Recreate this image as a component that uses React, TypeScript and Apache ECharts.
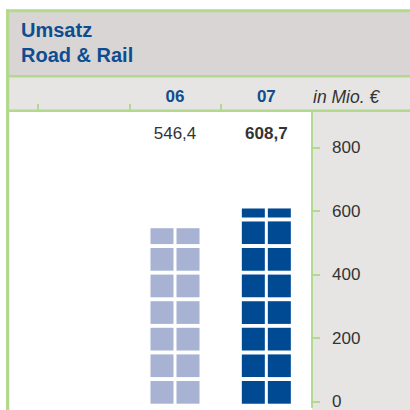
import React, { useEffect, useRef } from "react";
import * as echarts from "echarts";

// ---- data ----
const categories = ["", "06", "07"];
const values: (number | null)[] = [null, 546.4, 608.7];
const valueLabels = ["", "546,4", "608,7"];
const boldLabel = [false, false, true];
const barColors = ["#a8b3d4", "#a8b3d4", "#004a93"];
const titleLines = ["Umsatz", "Road & Rail"];
const unitLabel = "in Mio. €";
const yMin = -17;
const yMax = 916;

// ---- styles ----
const GREEN = "#b3d98e";
const TITLE_BG = "#d9d5d4";
const HEADER_BG = "#e6e5e4";
const BLUE_TEXT = "#0d4d91";
const DARK_TEXT = "#333333";
const FONT = "Liberation Sans";
const CELL_W = 23;
const CELL_H = 22.7;
const GAP_X = 3;
const GAP_Y = 3.9;
const BASE_OFFSET = 2.2;

export default function App() {
  const ref = useRef<HTMLDivElement>(null);
  useEffect(() => {
    if (!ref.current) return;
    const chart = echarts.init(ref.current, null, { renderer: "svg" });
    const data = values
      .map((v, i) => (v == null ? null : [i, v]))
      .filter((d) => d !== null) as number[][];

    const option: any = {
      animation: false,
      backgroundColor: "#ffffff",
      grid: { left: 38, right: 98, top: 111, bottom: 0, containLabel: false },
      xAxis: {
        type: "category",
        position: "top",
        data: categories,
        boundaryGap: true,
        axisLine: { show: false, onZero: false },
        axisTick: { show: true, length: 7, lineStyle: { color: GREEN, width: 2 } },
        axisLabel: {
          margin: 15,
          verticalAlign: "middle",
          color: BLUE_TEXT,
          fontFamily: FONT,
          fontWeight: "bold",
          fontSize: 17,
        },
        splitLine: { show: false },
      },
      yAxis: {
        type: "value",
        position: "right",
        min: yMin,
        max: yMax,
        splitNumber: 5,
        axisLine: { show: true, lineStyle: { color: GREEN, width: 2 } },
        axisTick: { show: true, length: 8, lineStyle: { color: GREEN, width: 2 } },
        axisLabel: {
          margin: 20,
          showMinLabel: false,
          showMaxLabel: false,
          color: DARK_TEXT,
          fontFamily: FONT,
          fontSize: 17,
          padding: [0, 0, 5, 0],
        },
        splitLine: { show: false },
      },
      graphic: [
        // backgrounds
        { type: "rect", z: -10, shape: { x: 9, y: 12, width: 401, height: 63 }, style: { fill: TITLE_BG } },
        { type: "rect", z: -10, shape: { x: 9, y: 77, width: 401, height: 33 }, style: { fill: HEADER_BG } },
        { type: "rect", z: -10, shape: { x: 312, y: 111, width: 98, height: 299 }, style: { fill: HEADER_BG } },
        // hide the header tick at the right end of the category axis
        { type: "rect", z: 10, shape: { x: 309.5, y: 100, width: 5, height: 10 }, style: { fill: HEADER_BG } },
        // frame lines
        { type: "rect", z: 10, shape: { x: 6, y: 9.3, width: 404, height: 3 }, style: { fill: GREEN } },
        { type: "rect", z: 10, shape: { x: 6, y: 9.3, width: 3.3, height: 401 }, style: { fill: GREEN } },
        { type: "rect", z: 10, shape: { x: 9, y: 75, width: 401, height: 2.5 }, style: { fill: GREEN } },
        { type: "rect", z: 10, shape: { x: 9, y: 109.5, width: 401, height: 2.5 }, style: { fill: GREEN } },
        // title
        {
          type: "text", z: 11, x: 21, y: 29.5,
          style: { text: titleLines[0], fill: BLUE_TEXT, font: `bold 20px "${FONT}"`, verticalAlign: "middle" },
        },
        {
          type: "text", z: 11, x: 21, y: 54.5,
          style: { text: titleLines[1], fill: BLUE_TEXT, font: `bold 20px "${FONT}"`, verticalAlign: "middle" },
        },
        {
          type: "text", z: 11, x: 313, y: 96.5,
          style: { text: unitLabel, fill: "#333333", font: `italic 17.5px "${FONT}"`, verticalAlign: "middle" },
        },
      ],
      series: [
        {
          type: "custom",
          coordinateSystem: "cartesian2d",
          data,
          clip: false,
          renderItem: (params: any, api: any) => {
            const idx = api.value(0);
            const v = api.value(1);
            const base = api.coord([idx, 0]);
            const top = api.coord([idx, v]);
            const cx = base[0];
            const bottom = base[1] + BASE_OFFSET;
            const topY = top[1];
            const color = barColors[idx];
            const children: any[] = [];
            const totalW = CELL_W * 2 + GAP_X;
            for (let i = 0; i < 100; i++) {
              const cb = bottom - i * (CELL_H + GAP_Y);
              if (cb <= topY) break;
              const ct = Math.max(cb - CELL_H, topY);
              for (let c = 0; c < 2; c++) {
                children.push({
                  type: "rect",
                  shape: { x: cx - totalW / 2 + c * (CELL_W + GAP_X), y: ct, width: CELL_W, height: cb - ct },
                  style: { fill: color },
                });
              }
            }
            children.push({
              type: "text",
              x: cx,
              y: params.coordSys.y + 22.5,
              style: {
                text: valueLabels[idx],
                fill: DARK_TEXT,
                font: `${boldLabel[idx] ? "bold " : ""}17px "${FONT}"`,
                align: "center",
                verticalAlign: "middle",
              },
            });
            return { type: "group", children };
          },
        },
      ],
    };
    chart.setOption(option);
    return () => chart.dispose();
  }, []);
  return (
    <div
      ref={ref}
      style={{ position: "fixed", left: 0, top: 0, width: 410, height: 410 }}
    />
  );
}
